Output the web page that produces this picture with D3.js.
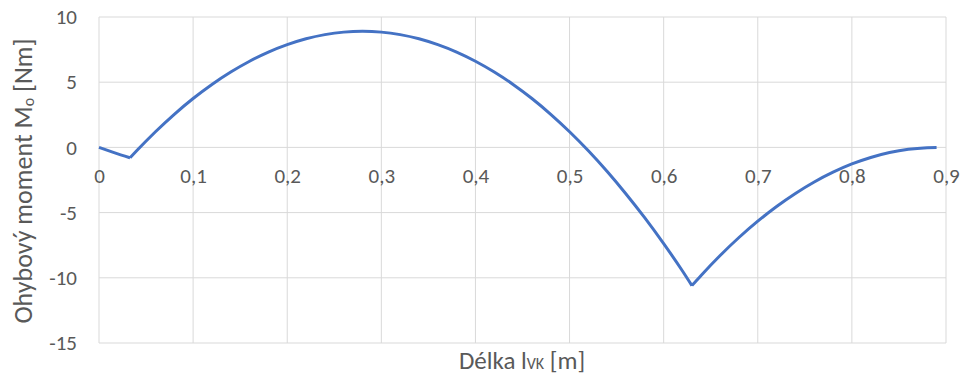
<!DOCTYPE html>
<html>
<head>
<meta charset="utf-8">
<script src="https://cdn.jsdelivr.net/npm/d3@7"></script>
<style>
  body { margin: 0; background: #fff; }
  svg text { font-family: Calibri, Carlito, Lato, "Open Sans", sans-serif; fill: #595959; }
</style>
</head>
<body>
<script>
// data
const lengths = [0, 0.016, 0.033, 0.04, 0.06, 0.08, 0.10, 0.12, 0.14, 0.16, 0.18, 0.20, 0.22, 0.24, 0.26, 0.28,
  0.30, 0.32, 0.34, 0.36, 0.38, 0.40, 0.42, 0.44, 0.46, 0.48, 0.50, 0.52, 0.54, 0.56, 0.58, 0.60, 0.62, 0.63,
  0.64, 0.66, 0.68, 0.70, 0.72, 0.74, 0.76, 0.78, 0.80, 0.82, 0.84, 0.86, 0.88, 0.89];
const moments = [0, -0.4, -0.8, -0.26, 1.20, 2.54, 3.75, 4.83, 5.78, 6.61, 7.31, 7.88, 8.33, 8.65, 8.84, 8.9,
  8.84, 8.65, 8.33, 7.88, 7.31, 6.61, 5.78, 4.83, 3.75, 2.54, 1.20, -0.26, -1.85, -3.57, -5.41, -7.38, -9.48, -10.6,
  -9.80, -8.29, -6.91, -5.66, -4.53, -3.53, -2.65, -1.90, -1.27, -0.77, -0.39, -0.14, -0.02, 0];
// the diagram has sharp corners at these lengths (supports)
const kinks = [0.033, 0.63];
const xTicks = [0, 0.1, 0.2, 0.3, 0.4, 0.5, 0.6, 0.7, 0.8, 0.9];
const yTicks = [10, 5, 0, -5, -10, -15];

const points = lengths.map((x, i) => ({ x: x, y: moments[i] }));

// split into smooth pieces between the corners
const bounds = [0, ...kinks, Infinity];
const pieces = [];
for (let k = 0; k < bounds.length - 1; k++) {
    pieces.push(points.filter(p => p.x >= bounds[k] && p.x <= bounds[k + 1]));
}

const W = 966, H = 376;
const margin = { top: 17, right: 20, bottom: 33, left: 99 };

const svg = d3.select("body").append("svg")
    .attr("width", W)
    .attr("height", H);

const x = d3.scaleLinear().domain([0, 0.9]).range([margin.left, 946]);
const y = d3.scaleLinear().domain([-15, 10]).range([H - margin.bottom, margin.top]);

const fmt = d => String(d).replace(".", ",");

// grid
const grid = svg.append("g");
grid.selectAll("line.h").data(yTicks).join("line")
    .attr("x1", x(0)).attr("x2", x(0.9))
    .attr("y1", d => y(d)).attr("y2", d => y(d))
    .attr("stroke", "#d9d9d9").attr("stroke-width", 1);
grid.selectAll("line.v").data(xTicks).join("line")
    .attr("x1", d => x(d)).attr("x2", d => x(d))
    .attr("y1", y(10)).attr("y2", y(-15))
    .attr("stroke", "#d9d9d9").attr("stroke-width", 1);

// y axis labels
const yAxis = svg.append("g")
    .attr("transform", `translate(${x(0)},0)`)
    .call(d3.axisLeft(y).tickValues(yTicks).tickSize(0).tickPadding(22).tickFormat(fmt));
yAxis.select(".domain").remove();
yAxis.selectAll("text").attr("font-size", 21).attr("fill", "#595959");

// x axis labels sit under the zero line
const xAxis = svg.append("g")
    .attr("transform", `translate(0,${y(0)})`)
    .call(d3.axisBottom(x).tickValues(xTicks).tickSize(0).tickPadding(21).tickFormat(fmt));
xAxis.select(".domain").remove();
xAxis.selectAll("text").attr("font-size", 21).attr("fill", "#595959");

// line
const line = d3.line()
    .curve(d3.curveMonotoneX)
    .x(d => x(d.x))
    .y(d => y(d.y));
svg.append("path")
    .attr("fill", "none")
    .attr("stroke", "#4472c4")
    .attr("stroke-width", 3)
    .attr("stroke-linejoin", "round")
    .attr("d", pieces.map(line).join(""));

// axis titles
const yt = svg.append("text")
    .attr("transform", `translate(32,181) rotate(-90)`)
    .attr("text-anchor", "middle")
    .attr("font-size", 26);
yt.append("tspan").text("Ohybový moment M");
yt.append("tspan").attr("font-size", 16).attr("dy", 2).text("o");
yt.append("tspan").attr("dy", -2).text(" [Nm]");

const xt = svg.append("text")
    .attr("x", 522)
    .attr("y", 369)
    .attr("text-anchor", "middle")
    .attr("font-size", 25);
xt.append("tspan").text("Délka l");
xt.append("tspan").attr("font-size", 16).text("VK");
xt.append("tspan").text(" [m]");
</script>
</body>
</html>
